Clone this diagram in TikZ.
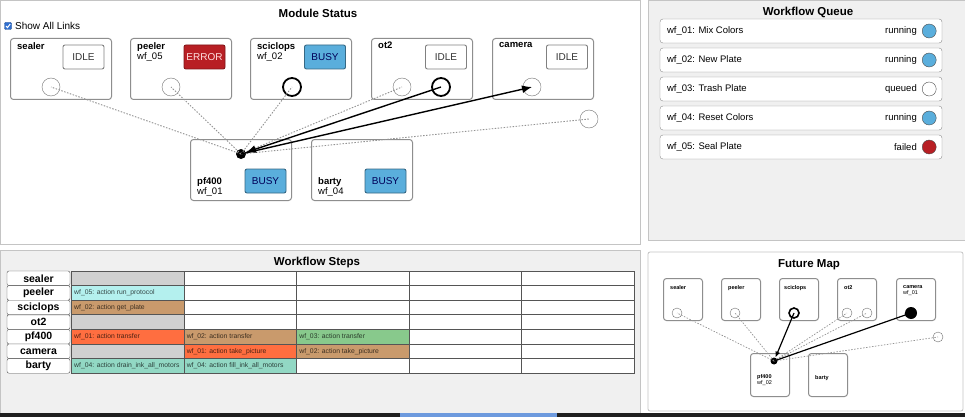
\documentclass[tikz,border=0pt]{standalone}
\usepackage{fontspec}
\setmainfont{Liberation Sans}
\usepackage{tikz}
\usetikzlibrary{arrows.meta}

\definecolor{panelgray}{HTML}{C4C4C4}
\definecolor{boxgray}{HTML}{8E8E8E}
\definecolor{busyblue}{HTML}{5AAEDC}
\definecolor{errred}{HTML}{B81F24}
\definecolor{stepbg}{HTML}{F0F0F0}
\definecolor{idlecell}{HTML}{D0D0D0}
\definecolor{cyancell}{HTML}{B4F0EE}
\definecolor{tancell}{HTML}{C99A6C}
\definecolor{redcell}{HTML}{FF6E40}
\definecolor{greencell}{HTML}{88C98C}
\definecolor{tealcell}{HTML}{92D8C4}
\definecolor{gridline}{HTML}{555555}
\definecolor{cbblue}{HTML}{2F6FD0}

\tikzset{
  panel/.style={draw=panelgray, line width=0.8pt},
  title/.style={font=\bfseries\fontsize{11.5}{13}\selectfont},
  modbox/.style={draw=boxgray, line width=1pt, rounded corners=3pt, minimum width=101pt, minimum height=61pt, inner sep=0pt, anchor=north west},
  smallbox/.style={modbox, minimum width=39pt, minimum height=42pt},
  modlabel/.style={anchor=north west, align=left, inner sep=0pt, font=\fontsize{9.5}{10.5}\selectfont},
  smalllabel/.style={anchor=north west, align=left, inner sep=0pt, font=\fontsize{5.5}{6.5}\selectfont},
  statebtn/.style={draw=#1, fill=#1, line width=0.9pt, rounded corners=2pt, minimum width=41pt, minimum height=24pt, inner sep=0pt, font=\fontsize{10}{12}\selectfont},
  idlebtn/.style={statebtn=white, draw=black!50, text=black!80},
  busybtn/.style={statebtn=busyblue, draw=busyblue!60!black, text=blue!35!black},
  errbtn/.style={statebtn=errred, draw=errred!70!black, text=red!12},
  port/.style={circle, draw=black!55, minimum size=18pt, inner sep=0pt},
  busyport/.style={port, draw=black, line width=1.8pt},
  dotport/.style={circle, fill=black, minimum size=10pt, inner sep=0pt},
  smallport/.style={port, minimum size=10pt},
  link/.style={draw=gray!85, line width=0.9pt, dash pattern=on 1.5pt off 1.5pt},
  flow/.style={-{Latex[length=10pt, width=8pt]}, line width=1.4pt},
  smallflow/.style={-{Latex[length=6pt, width=5pt]}, line width=1.2pt},
  qrow/.style={draw=boxgray, fill=white, rounded corners=3pt, minimum width=282pt, minimum height=24pt, inner sep=0pt},
  qdot/.style={circle, draw=gray!60!black, minimum size=14pt, inner sep=0pt},
  qtext/.style={inner sep=0pt, font=\fontsize{9.5}{11}\selectfont},
  rowhead/.style={draw=gridline, fill=white, rounded corners=2pt, minimum width=63pt, minimum height=14.6pt, inner sep=0pt, font=\bfseries\fontsize{10.5}{11}\selectfont},
  cell/.style={draw=gridline, line width=1pt, minimum width=112.6pt, minimum height=14.6pt, inner sep=0pt, anchor=west},
  celltext/.style={anchor=west, inner sep=0pt, font=\fontsize{6.8}{7.5}\selectfont}
}

\begin{document}
\begin{tikzpicture}[x=1pt, y=-1pt]
    \useasboundingbox (0,0) rectangle (965,417);

    \draw[panel, fill=white] (0,0) rectangle (640,244);
    \draw[panel, fill=stepbg] (648,0) rectangle (965,240);
    \draw[panel, fill=stepbg] (0,250) rectangle (640,413);
    \draw[panel, fill=white, rounded corners=2pt] (648,252) rectangle (963,411);
    \fill[black!88] (0,413) rectangle (965,417);
    \fill[cbblue!70] (400,413) rectangle (557,417);

    % module status
    \node[title] (modtitle) at (318,13) {Module Status};
    \node[draw=cbblue!70!black, fill=cbblue, minimum size=7pt, inner sep=0pt, rounded corners=1pt] (chk) at (8,26) {};
    \draw[white, line width=1pt] ([shift={(-2,0)}]chk.center) -- ([shift={(-0.5,1.6)}]chk.center) -- ([shift={(2.2,-2)}]chk.center);
    \node[anchor=west, inner sep=0pt, font=\fontsize{10}{12}\selectfont] (showlinks) at (15,26) {Show All Links};

    \node[modbox] (sealer) at (10,38) {};
    \node[modbox] (peeler) at (130,38) {};
    \node[modbox] (sciclops) at (250,38) {};
    \node[modbox] (ot2) at (371,38) {};
    \node[modbox] (camera) at (492,38) {};
    \node[modbox] (pf400) at (190,139) {};
    \node[modbox] (barty) at (311,139) {};

    \node[modlabel] (sealerlab) at (17,42) {\textbf{sealer}};
    \node[modlabel] (peelerlab) at (137,42) {\textbf{peeler}\\wf\_05};
    \node[modlabel] (sciclopslab) at (257,42) {\textbf{sciclops}\\wf\_02};
    \node[modlabel] (ot2lab) at (378,42) {\textbf{ot2}};
    \node[modlabel] (cameralab) at (499,42) {\textbf{camera}};
    \node[modlabel, anchor=south west] (pf400lab) at (197,197) {\textbf{pf400}\\wf\_01};
    \node[modlabel, anchor=south west] (bartylab) at (318,197) {\textbf{barty}\\wf\_04};

    \node[idlebtn] (sealerstate) at (83.5,57) {IDLE};
    \node[errbtn] (peelerstate) at (204.5,57) {ERROR};
    \node[busybtn] (sciclopsstate) at (325,57) {BUSY};
    \node[idlebtn] (ot2state) at (446,57) {IDLE};
    \node[idlebtn] (camerastate) at (567,57) {IDLE};
    \node[busybtn] (pf400state) at (265.5,181) {BUSY};
    \node[busybtn] (bartystate) at (385.5,181) {BUSY};

    \node[port] (sealerport) at (51,87) {};
    \node[port] (peelerport) at (171,87) {};
    \node[busyport] (sciclopsport) at (292,87) {};
    \node[port] (ot2porta) at (402,87) {};
    \node[busyport] (ot2portb) at (441,87) {};
    \node[port] (cameraport) at (532,87) {};
    \node[port] (spareport) at (589,119) {};
    \node[dotport] (pf400port) at (241,154) {};

    \foreach \p in {sealerport,peelerport,sciclopsport,ot2porta,spareport}
        \draw[link] (pf400port.center) -- (\p.center);
    \draw[flow] (ot2portb.center) -- (pf400port);
    \draw[flow] (pf400port.center) -- (cameraport.center);

    % workflow queue
    \node[title] (queuetitle) at (808,12) {Workflow Queue};
    \foreach \i/\txt/\st/\col in {1/Mix Colors/running/busyblue, 2/New Plate/running/busyblue, 3/Trash Plate/queued/white, 4/Reset Colors/running/busyblue, 5/Seal Plate/failed/errred} {
        \node[qrow] (q\i) at (801,2+29*\i) {};
        \node[qtext, anchor=west] (q\i name) at ([xshift=7pt]q\i.west) {wf\_0\i: \txt};
        \node[qdot, fill=\col] (q\i dot) at ([xshift=-13pt]q\i.east) {};
        \node[qtext, anchor=east] (q\i state) at ([xshift=-5pt]q\i dot.west) {\st};
    }

    % workflow steps
    \node[title] (steptitle) at (317,263) {Workflow Steps};
    \foreach \r [count=\k] in {sealer,peeler,sciclops,ot2,pf400,camera,barty} {
        \node[rowhead] (h\r) at (38.5,263.7+14.6*\k) {\r};
        \foreach \c in {1,...,5}
            \node[cell, fill=white] (c\r\c) at (71+112.6*\c-112.6,263.7+14.6*\k) {};
    }
    \foreach \r in {sealer,ot2,camera}
        \node[cell, fill=idlecell] (g\r) at (c\r1.west) {};
    \foreach \r/\c/\col/\txt in {peeler/1/cyancell/wf\_05: action run\_protocol,
                                 sciclops/1/tancell/wf\_02: action get\_plate,
                                 pf400/1/redcell/wf\_01: action transfer,
                                 pf400/2/tancell/wf\_02: action transfer,
                                 pf400/3/greencell/wf\_03: action transfer,
                                 camera/2/redcell/wf\_01: action take\_picture,
                                 camera/3/tancell/wf\_02: action take\_picture,
                                 barty/1/tealcell/wf\_04: action drain\_ink\_all\_motors,
                                 barty/2/tealcell/wf\_04: action fill\_ink\_all\_motors} {
        \node[cell, fill=\col] (s\r\c) at (c\r\c.west) {};
        \node[celltext, text=\col!30!black] (t\r\c) at ([xshift=3pt]s\r\c.west) {\txt};
    }

    % future map
    \node[title] (futuretitle) at (809,265) {Future Map};
    \node[smallbox] (fsealer) at (663,278) {};
    \node[smallbox] (fpeeler) at (721,278) {};
    \node[smallbox] (fsciclops) at (779,278) {};
    \node[smallbox] (fot2) at (837,278) {};
    \node[smallbox] (fcamera) at (896,278) {};
    \node[smallbox, minimum height=43pt] (fpf400) at (750,353) {};
    \node[smallbox, minimum height=43pt] (fbarty) at (808,353) {};

    \node[smalllabel] (fsealerlab) at (670,285) {\textbf{sealer}};
    \node[smalllabel] (fpeelerlab) at (728,285) {\textbf{peeler}};
    \node[smalllabel] (fsciclopslab) at (784,285) {\textbf{sciclops}};
    \node[smalllabel] (fot2lab) at (844,285) {\textbf{ot2}};
    \node[smalllabel] (fcameralab) at (903,285) {\textbf{camera}\\wf\_01};
    \node[smalllabel] (fpf400lab) at (757,374) {\textbf{pf400}\\wf\_02};
    \node[smalllabel] (fbartylab) at (815,375) {\textbf{barty}};

    \node[smallport] (fsealerport) at (677,313) {};
    \node[smallport] (fpeelerport) at (735,313) {};
    \node[smallport, draw=black, line width=1.6pt] (fsciclopsport) at (794,313) {};
    \node[smallport] (fot2porta) at (847,313) {};
    \node[smallport] (fot2portb) at (867,313) {};
    \node[dotport, minimum size=12pt] (fcameraport) at (911,313) {};
    \node[smallport] (fspareport) at (938,337) {};
    \node[dotport, minimum size=7pt] (fpf400port) at (774,361) {};

    \foreach \p in {fsealerport,fpeelerport,fot2porta,fot2portb,fspareport}
        \draw[link, line width=0.7pt] (fpf400port.center) -- (\p.center);
    \draw[smallflow] (fsciclopsport.center) -- (fpf400port);
    \draw[smallflow] (fpf400port.center) -- (fcameraport.center);
\end{tikzpicture}
\end{document}
